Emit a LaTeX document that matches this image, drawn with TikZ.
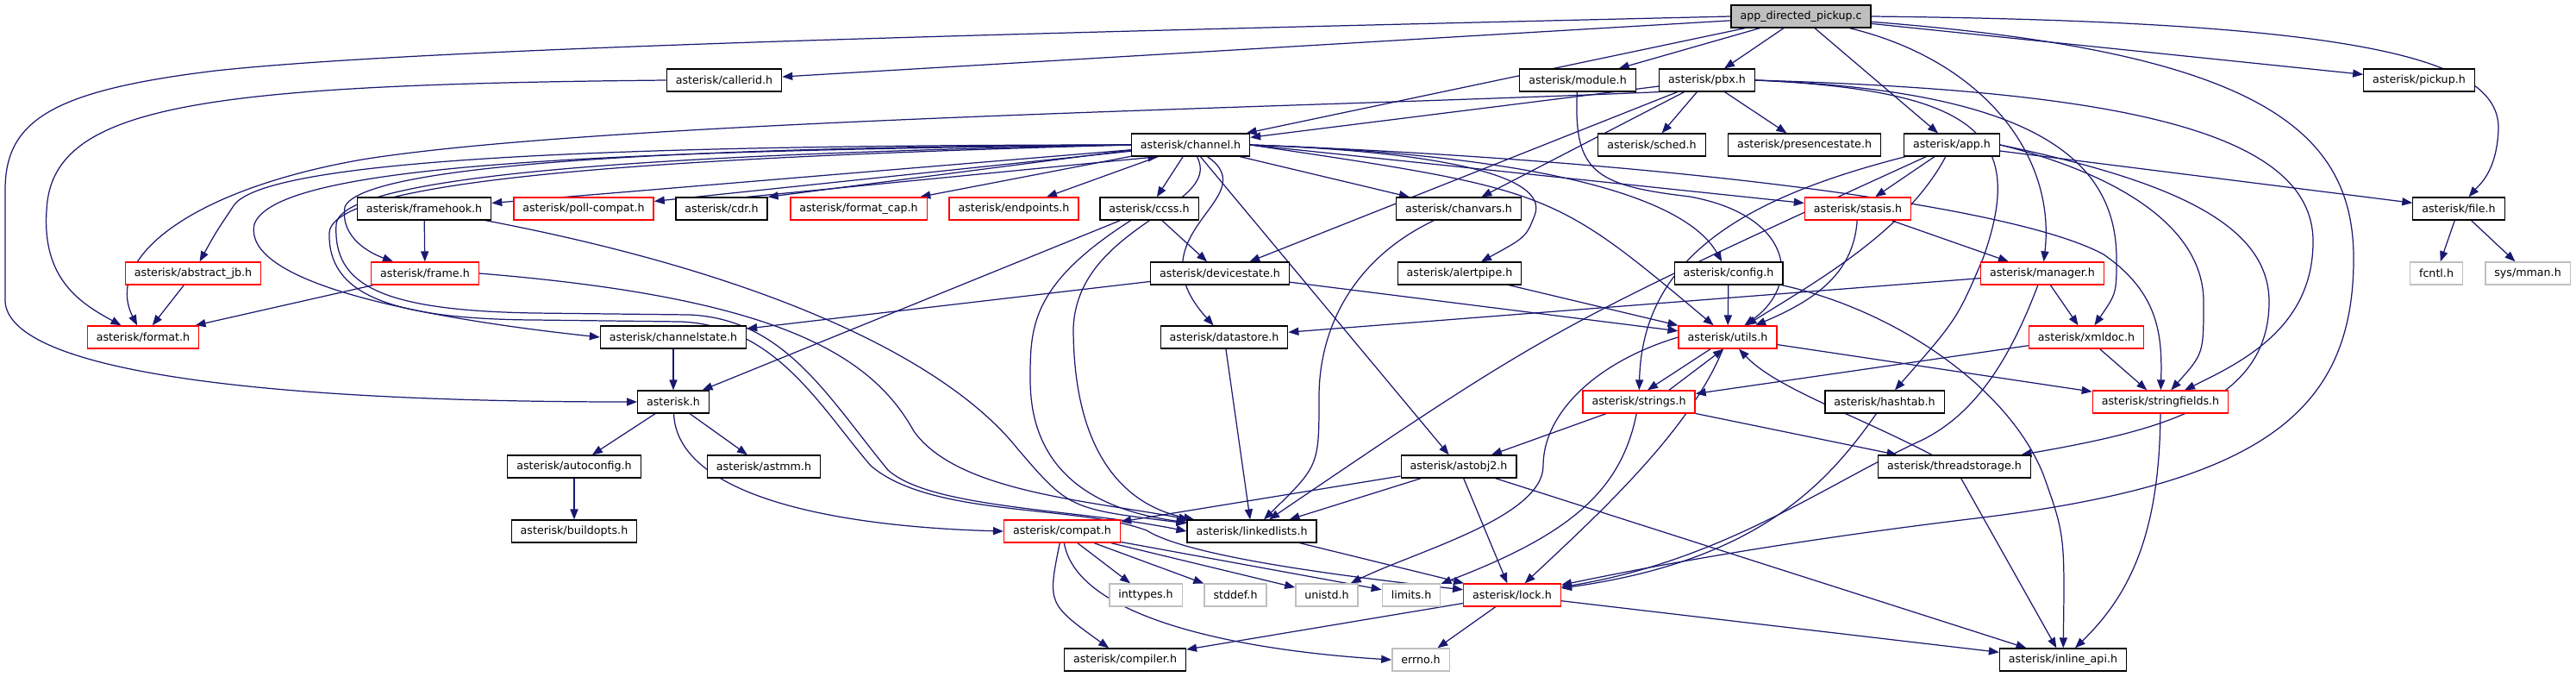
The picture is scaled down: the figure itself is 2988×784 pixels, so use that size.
\documentclass[tikz,border=0pt]{standalone}
\usepackage{fontspec}
\setmainfont{DejaVu Sans}
\usepackage{xcolor}
\definecolor{depblue}{RGB}{25,25,112}
\definecolor{truncred}{RGB}{255,0,0}
\definecolor{sysgray}{RGB}{191,191,191}
\definecolor{rootgray}{RGB}{191,191,191}
\usetikzlibrary{arrows.meta,backgrounds}
\tikzset{
  hdr/.style={draw=black, line width=0.35pt, fill=white, inner xsep=0.105cm, inner ysep=0pt,
    minimum height=0.26cm, font=\fontsize{3.6}{4.3}\selectfont},
  hdrred/.style={hdr, draw=truncred, line width=0.4pt},
  hdrsys/.style={hdr, draw=sysgray, line width=0.4pt},
  hdrroot/.style={hdr, fill=rootgray},
  dep/.style={draw=depblue, line width=0.35pt, -{Triangle[length=3.4pt,width=2.6pt]}},
}

\begin{document}
\begin{tikzpicture}[x=0.01cm, y=-0.01cm]
  \useasboundingbox (0,0) rectangle (2988,784);

  % Source file
  \node[hdrroot] (root) at (2089,19) {app\_directed\_pickup.c};

  % Row 1
  \node[hdr] (callerid) at (840,93) {asterisk/callerid.h};
  \node[hdr] (module) at (1830,93) {asterisk/module.h};
  \node[hdr] (pbx) at (1980,93) {asterisk/pbx.h};
  \node[hdr] (pickup) at (2806,93) {asterisk/pickup.h};

  % Row 2
  \node[hdr] (channel) at (1381,168) {asterisk/channel.h};
  \node[hdr] (sched) at (1916,168) {asterisk/sched.h};
  \node[hdr] (presence) at (2093,168) {asterisk/presencestate.h};
  \node[hdr] (app) at (2264,168) {asterisk/app.h};

  % Row 3
  \node[hdr] (framehook) at (492,242) {asterisk/framehook.h};
  \node[hdrred] (pollcompat) at (677,242) {asterisk/poll-compat.h};
  \node[hdr] (cdr) at (837,242) {asterisk/cdr.h};
  \node[hdrred] (formatcap) at (996,242) {asterisk/format\_cap.h};
  \node[hdrred] (endpoints) at (1176,242) {asterisk/endpoints.h};
  \node[hdr] (ccss) at (1333,242) {asterisk/ccss.h};
  \node[hdr] (chanvars) at (1692,242) {asterisk/chanvars.h};
  \node[hdrred] (stasis) at (2155,242) {asterisk/stasis.h};
  \node[hdr] (file) at (2852,242) {asterisk/file.h};

  % Row 4
  \node[hdrred] (abstractjb) at (224,317) {asterisk/abstract\_jb.h};
  \node[hdrred] (frame) at (493,317) {asterisk/frame.h};
  \node[hdr] (devicestate) at (1415,317) {asterisk/devicestate.h};
  \node[hdr] (alertpipe) at (1693,317) {asterisk/alertpipe.h};
  \node[hdr] (config) at (2005,317) {asterisk/config.h};
  \node[hdrred] (manager) at (2369,317) {asterisk/manager.h};
  \node[hdrsys] (fcntl) at (2826,317) {fcntl.h};
  \node[hdrsys] (sysmman) at (2932,317) {sys/mman.h};

  % Row 5
  \node[hdrred] (format) at (166,391) {asterisk/format.h};
  \node[hdr] (channelstate) at (781,391) {asterisk/channelstate.h};
  \node[hdr] (datastore) at (1420,391) {asterisk/datastore.h};
  \node[hdrred] (utils) at (2004,391) {asterisk/utils.h};
  \node[hdrred] (xmldoc) at (2420,391) {asterisk/xmldoc.h};

  % Row 6
  \node[hdr] (asteriskh) at (781,466) {asterisk.h};
  \node[hdrred] (strings) at (1901,466) {asterisk/strings.h};
  \node[hdr] (hashtab) at (2186,466) {asterisk/hashtab.h};
  \node[hdrred] (stringfields) at (2506,466) {asterisk/stringfields.h};

  % Row 7
  \node[hdr] (autoconfig) at (666,541) {asterisk/autoconfig.h};
  \node[hdr] (astmm) at (886,541) {asterisk/astmm.h};
  \node[hdr] (astobj2) at (1692,541) {asterisk/astobj2.h};
  \node[hdr] (threadstorage) at (2267,541) {asterisk/threadstorage.h};

  % Row 8
  \node[hdr] (buildopts) at (666,616) {asterisk/buildopts.h};
  \node[hdrred] (compat) at (1232,616) {asterisk/compat.h};
  \node[hdr] (linkedlists) at (1452,616) {asterisk/linkedlists.h};

  % Row 9
  \node[hdrsys] (inttypes) at (1329,690) {inttypes.h};
  \node[hdrsys] (stddef) at (1433,690) {stddef.h};
  \node[hdrsys] (unistd) at (1539,690) {unistd.h};
  \node[hdrsys] (limits) at (1637,690) {limits.h};
  \node[hdrred] (lock) at (1754,690) {asterisk/lock.h};

  % Row 10
  \node[hdr] (compiler) at (1305,765) {asterisk/compiler.h};
  \node[hdrsys] (errno) at (1648,765) {errno.h};
  \node[hdr] (inlineapi) at (2393,765) {asterisk/inline\_api.h};

  \begin{scope}[on background layer]
  % Includes of the source file
  \draw[dep] (root.west) .. controls (1200,38) and (500,55) .. (250,82) .. controls (60,105) and (6,140) .. (6,220) -- (6,350) .. controls (12,430) and (300,466) .. (asteriskh);
  \draw[dep] (root) -- (callerid);
  \draw[dep] (root) -- (channel);
  \draw[dep] (root) -- (module);
  \draw[dep] (root) -- (pbx);
  \draw[dep] (root) -- (app);
  \draw[dep] (root) .. controls (2300,70) and (2385,180) .. (manager);
  \draw[dep] (root) .. controls (2620,60) and (2730,150) .. (2730,300) .. controls (2730,480) and (2620,560) .. (2300,600) .. controls (2050,630) and (1900,660) .. (lock);
  \draw[dep] (root) -- (pickup);
  \draw[dep] (root.east) .. controls (2750,25) and (2900,70) .. (2898,150) .. controls (2896,200) and (2875,215) .. (file);

  % Row 1
  \draw[dep] (callerid.west) .. controls (250,98) and (70,120) .. (55,233) .. controls (45,320) and (90,350) .. (format);
  \draw[dep] (module) .. controls (1825,200) and (1850,215) .. (1960,228) .. controls (2080,250) and (2090,330) .. (utils);
  \draw[dep] (pbx) -- (channel);
  \draw[dep] (pbx.south west) .. controls (1500,125) and (700,140) .. (420,185) .. controls (220,220) and (120,300) .. (format);
  \draw[dep] (pbx) -- (sched);
  \draw[dep] (pbx) -- (presence);
  \draw[dep] (pbx) -- (chanvars);
  \draw[dep] (pbx) -- (devicestate);
  \draw[dep] (pbx.east) .. controls (2300,105) and (2350,160) .. (2300,300) .. controls (2270,370) .. (hashtab);
  \draw[dep] (pbx.east) .. controls (2350,105) and (2455,180) .. (2455,300) .. controls (2455,340) .. (xmldoc);
  \draw[dep] (pbx.east) .. controls (2450,105) and (2683,150) .. (2683,280) .. controls (2683,380) and (2600,420) .. (stringfields);

  % channel.h
  \draw[dep] (channel) -- (framehook);
  \draw[dep] (channel) -- (pollcompat);
  \draw[dep] (channel.185) -- (cdr.north east);
  \draw[dep] (cdr.25) -- (channel.200);
  \draw[dep] (channel) -- (formatcap);
  \draw[dep] (channel) -- (endpoints);
  \draw[dep] (channel) -- (ccss);
  \draw[dep] (channel.west) .. controls (800,170) and (420,190) .. (400,240) .. controls (395,270) and (420,290) .. (frame);
  \draw[dep] (channel.west) .. controls (700,168) and (300,185) .. (270,240) .. controls (250,270) .. (abstractjb);
  \draw[dep] (channel.west) .. controls (700,175) and (320,190) .. (295,260) .. controls (280,330) and (500,370) .. (channelstate.west);
  \draw[dep] (channel.west) .. controls (800,178) and (395,200) .. (390,260) .. controls (386,330) and (440,360) .. (620,363) -- (800,365) .. controls (910,370) and (960,460) .. (1030,545) .. controls (1080,590) and (1250,590) .. (linkedlists.west);
  \draw[dep] (channel.west) .. controls (800,182) and (385,205) .. (382,270) .. controls (380,340) and (450,370) .. (620,371) -- (790,373) .. controls (900,378) and (950,470) .. (1010,540) .. controls (1080,600) and (1250,585) .. (1330,615) .. controls (1370,640) and (1500,662) .. (lock);
  \draw[dep] (channel) -- (chanvars);
  \draw[dep] (channel.east) .. controls (1650,175) and (1800,200) .. (1780,250) .. controls (1770,275) .. (alertpipe);
  \draw[dep] (channel) .. controls (1470,230) and (1310,270) .. (datastore);
  \draw[dep] (channel) .. controls (1420,240) and (1250,260) .. (1245,380) .. controls (1245,520) and (1300,585) .. (linkedlists);
  \draw[dep] (channel) -- (astobj2);
  \draw[dep] (channel.east) .. controls (1800,220) .. (utils);
  \draw[dep] (channel.east) -- (stasis);
  \draw[dep] (channel.east) .. controls (1750,178) and (1950,220) .. (config);
  \draw[dep] (channel.east) .. controls (1900,185) and (2330,235) .. (2440,295) .. controls (2505,340) and (2508,390) .. (stringfields);

  % Row 3
  \draw[dep] (framehook) -- (frame);
  \draw[dep] (framehook) .. controls (900,320) and (1100,420) .. (1180,520) .. controls (1240,590) .. (linkedlists);
  \draw[dep] (ccss) -- (devicestate);
  \draw[dep] (ccss) -- (asteriskh);
  \draw[dep] (ccss) .. controls (1195,330) and (1195,380) .. (1195,440) .. controls (1195,540) and (1260,590) .. (linkedlists);
  \draw[dep] (chanvars) .. controls (1570,300) and (1530,380) .. (1530,460) .. controls (1530,540) .. (linkedlists);
  \draw[dep] (stasis) .. controls (2150,320) and (2100,350) .. (utils);
  \draw[dep] (stasis) -- (manager);
  \draw[dep] (app) -- (stasis);
  \draw[dep] (app) .. controls (2210,270) and (2100,330) .. (utils);
  \draw[dep] (app) .. controls (2020,230) and (1905,300) .. (strings);
  \draw[dep] (app) .. controls (1800,380) .. (linkedlists);
  \draw[dep] (app) -- (file);
  \draw[dep] (app.east) .. controls (2450,200) and (2556,260) .. (2556,350) .. controls (2556,410) .. (stringfields);
  \draw[dep] (app.east) .. controls (2520,210) and (2632,260) .. (2632,350) .. controls (2632,470) and (2500,500) .. (threadstorage);
  \draw[dep] (file) -- (fcntl);
  \draw[dep] (file) -- (sysmman);

  % Row 4
  \draw[dep] (abstractjb) -- (format);
  \draw[dep] (frame) -- (format);
  \draw[dep] (frame.east) .. controls (900,345) and (1010,410) .. (1060,500) .. controls (1110,570) and (1260,580) .. (linkedlists);
  \draw[dep] (devicestate) -- (channelstate);
  \draw[dep] (devicestate) -- (utils);
  \draw[dep] (alertpipe) -- (utils);
  \draw[dep] (config) -- (utils);
  \draw[dep] (config) .. controls (2200,360) and (2330,450) .. (2370,550) .. controls (2395,620) .. (inlineapi);
  \draw[dep] (manager) -- (datastore);
  \draw[dep] (manager) -- (xmldoc);
  \draw[dep] (manager) .. controls (2330,420) and (2290,480) .. (2230,510) .. controls (2120,560) and (2000,650) .. (lock);

  % Row 5
  \draw[dep] (channelstate) -- (asteriskh);
  \draw[dep] (datastore) -- (linkedlists);
  \draw[dep] ([xshift=-0.2cm]utils.south) -- ([xshift=0.1cm]strings.north);
  \draw[dep] ([xshift=0.35cm]strings.north) -- ([xshift=-0.05cm]utils.south);
  \draw[dep] (utils) -- (stringfields);
  \draw[dep] (utils) .. controls (1960,500) and (1850,600) .. (lock);
  \draw[dep] (utils.west) .. controls (1850,420) and (1790,480) .. (1790,540) .. controls (1790,600) and (1640,640) .. (unistd);
  \draw[dep] (xmldoc) -- (strings);
  \draw[dep] (xmldoc) -- (stringfields);

  % Row 6
  \draw[dep] (asteriskh) -- (autoconfig);
  \draw[dep] (asteriskh) -- (astmm);
  \draw[dep] (asteriskh) .. controls (785,570) and (950,610) .. (compat.west);
  \draw[dep] (strings) -- (astobj2);
  \draw[dep] (strings) -- (threadstorage);
  \draw[dep] (strings) .. controls (1880,570) and (1820,620) .. (limits);
  \draw[dep] (hashtab) .. controls (2120,560) and (2040,650) .. (lock);
  \draw[dep] (stringfields) .. controls (2505,620) and (2470,690) .. (inlineapi);

  % Row 7
  \draw[dep] (autoconfig) -- (buildopts);
  \draw[dep] (astobj2) -- (compat);
  \draw[dep] (astobj2) -- (linkedlists);
  \draw[dep] (astobj2) -- (lock);
  \draw[dep] (astobj2) -- (inlineapi);
  \draw[dep] (threadstorage) .. controls (2150,480) and (2060,450) .. (utils);
  \draw[dep] (threadstorage) -- (inlineapi);

  % Row 8 and 9
  \draw[dep] (compat) -- (inttypes);
  \draw[dep] (compat) -- (stddef);
  \draw[dep] (compat) -- (unistd);
  \draw[dep] (compat) -- (limits);
  \draw[dep] (compat) .. controls (1215,700) .. (compiler);
  \draw[dep] (compat) .. controls (1250,720) and (1450,755) .. (errno.west);
  \draw[dep] (linkedlists) -- (lock);
  \draw[dep] (lock) -- (compiler);
  \draw[dep] (lock) -- (errno);
  \draw[dep] (lock) -- (inlineapi);
  \end{scope}
\end{tikzpicture}
\end{document}
